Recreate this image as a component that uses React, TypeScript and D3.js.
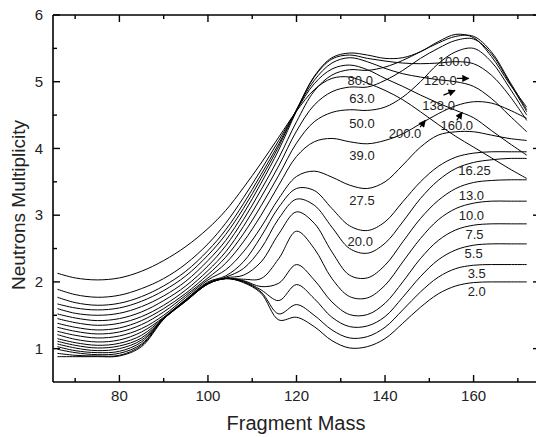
import React from "react";
import * as d3 from "d3";

// fragment mass sample points
const masses = [66, 70, 75, 80, 85, 90, 95, 100, 104, 108, 112, 116, 120, 124, 128, 132, 136, 140, 144, 148, 152, 156, 160, 164, 168, 172];

// neutron multiplicity per excitation energy
const e2_0 = [0.88, 0.88, 0.88, 0.89, 1.03, 1.44, 1.73, 1.98, 2.05, 1.99, 1.83, 1.43, 1.47, 1.33, 1.12, 1.01, 1.03, 1.15, 1.38, 1.62, 1.82, 1.94, 1.99, 2.0, 2.0, 2.0];
const e3_5 = [0.93, 0.9, 0.89, 0.9, 1.05, 1.45, 1.73, 1.98, 2.05, 2.0, 1.85, 1.52, 1.66, 1.5, 1.28, 1.16, 1.18, 1.32, 1.58, 1.85, 2.07, 2.2, 2.25, 2.26, 2.26, 2.26];
const e5_5 = [0.99, 0.94, 0.91, 0.93, 1.07, 1.45, 1.72, 1.98, 2.05, 2.01, 1.88, 1.72, 1.96, 1.75, 1.47, 1.33, 1.34, 1.48, 1.77, 2.08, 2.33, 2.48, 2.55, 2.57, 2.57, 2.57];
const e7_5 = [1.03, 0.97, 0.94, 0.96, 1.1, 1.45, 1.72, 1.97, 2.05, 2.02, 1.93, 1.98, 2.26, 2.03, 1.7, 1.51, 1.51, 1.68, 2.0, 2.35, 2.62, 2.78, 2.85, 2.87, 2.87, 2.87];
const e10 = [1.07, 1.01, 0.97, 1.0, 1.13, 1.45, 1.71, 1.97, 2.05, 2.04, 2.05, 2.35, 2.76, 2.5, 2.05, 1.78, 1.76, 1.95, 2.3, 2.65, 2.93, 3.1, 3.18, 3.21, 3.21, 3.21];
const e13 = [1.11, 1.05, 1.01, 1.04, 1.16, 1.45, 1.71, 1.97, 2.06, 2.1, 2.3, 2.72, 3.05, 2.88, 2.45, 2.1, 2.06, 2.25, 2.6, 2.95, 3.22, 3.4, 3.49, 3.52, 3.53, 3.53];
const e16_25 = [1.15, 1.09, 1.05, 1.08, 1.2, 1.46, 1.72, 1.98, 2.07, 2.2, 2.5, 2.95, 3.24, 3.15, 2.82, 2.5, 2.43, 2.58, 2.9, 3.25, 3.52, 3.7, 3.79, 3.83, 3.85, 3.85];
const e20 = [1.21, 1.14, 1.1, 1.13, 1.25, 1.47, 1.74, 2.0, 2.09, 2.3, 2.68, 3.12, 3.4, 3.37, 3.1, 2.84, 2.77, 2.9, 3.2, 3.5, 3.73, 3.87, 3.93, 3.95, 3.95, 3.95];
const e27_5 = [1.26, 1.2, 1.16, 1.19, 1.3, 1.5, 1.77, 2.03, 2.18, 2.45, 2.82, 3.25, 3.58, 3.66, 3.57, 3.45, 3.4, 3.5, 3.75, 4.02, 4.2, 4.25, 4.25, 4.2, 4.15, 4.12];
const e39 = [1.32, 1.26, 1.22, 1.25, 1.36, 1.55, 1.8, 2.06, 2.28, 2.6, 3.0, 3.45, 3.88, 4.1, 4.15, 4.1, 4.07, 4.12, 4.22, 4.37, 4.52, 4.64, 4.7, 4.68, 4.58, 4.45];
const e50 = [1.38, 1.32, 1.28, 1.31, 1.42, 1.6, 1.83, 2.11, 2.37, 2.72, 3.14, 3.6, 4.08, 4.4, 4.54, 4.58, 4.57, 4.62, 4.77, 5.0, 5.27, 5.45, 5.5, 5.3, 4.92, 4.5];
const e63 = [1.45, 1.39, 1.35, 1.38, 1.48, 1.65, 1.88, 2.17, 2.45, 2.83, 3.27, 3.74, 4.26, 4.65, 4.85, 4.92, 4.92, 5.02, 5.17, 5.35, 5.5, 5.62, 5.64, 5.42, 5.0, 4.55];
const e80 = [1.52, 1.46, 1.42, 1.45, 1.55, 1.72, 1.94, 2.24, 2.54, 2.93, 3.38, 3.86, 4.4, 4.86, 5.1, 5.18, 5.17, 5.22, 5.32, 5.45, 5.58, 5.68, 5.68, 5.45, 5.02, 4.58];
const e100 = [1.6, 1.53, 1.5, 1.53, 1.63, 1.79, 2.01, 2.32, 2.62, 3.02, 3.48, 3.98, 4.56, 5.08, 5.36, 5.43, 5.4, 5.35, 5.36, 5.45, 5.6, 5.71, 5.66, 5.38, 4.98, 4.62];
const e120 = [1.67, 1.61, 1.58, 1.61, 1.71, 1.87, 2.09, 2.4, 2.71, 3.1, 3.55, 4.03, 4.58, 5.07, 5.34, 5.4, 5.35, 5.31, 5.28, 5.27, 5.28, 5.3, 5.27, 5.1, 4.8, 4.42];
const e138 = [1.77, 1.69, 1.65, 1.68, 1.78, 1.94, 2.16, 2.47, 2.78, 3.17, 3.61, 4.07, 4.58, 5.02, 5.28, 5.36, 5.3, 5.2, 5.12, 5.07, 5.03, 5.0, 4.93, 4.75, 4.5, 4.25];
const e160 = [1.89, 1.81, 1.77, 1.8, 1.9, 2.05, 2.27, 2.57, 2.88, 3.26, 3.68, 4.12, 4.57, 4.97, 5.19, 5.25, 5.18, 5.05, 4.93, 4.8, 4.68, 4.57, 4.46, 4.27, 4.08, 3.9];
const e200 = [2.13, 2.06, 2.03, 2.06, 2.16, 2.32, 2.53, 2.8, 3.07, 3.41, 3.78, 4.17, 4.56, 4.88, 5.05, 5.07, 4.98, 4.87, 4.73, 4.55, 4.36, 4.18, 4.02, 3.86, 3.7, 3.55];

const curves = [e2_0, e3_5, e5_5, e7_5, e10, e13, e16_25, e20, e27_5, e39, e50, e63, e80, e100, e120, e138, e160, e200];

// curve labels: text, mass, multiplicity
const labelText = ["100.0", "120.0", "80.0", "63.0", "50.0", "138.0", "160.0", "200.0", "39.0", "27.5", "20.0", "16.25", "13.0", "10.0", "7.5", "5.5", "3.5", "2.0"];
const labelMass = [155.6, 152.5, 134.4, 134.8, 134.8, 152.1, 156.2, 144.5, 134.8, 134.8, 134.4, 160.2, 159.5, 159.5, 160.2, 160.0, 160.7, 160.7];
const labelVal = [5.31, 5.02, 5.02, 4.75, 4.37, 4.65, 4.35, 4.22, 3.9, 3.22, 2.6, 3.67, 3.3, 3.0, 2.71, 2.42, 2.12, 1.85];

// pointer arrows [mass0, val0, mass1, val1]
const arrows = [
  [156.2, 5.05, 158.9, 5.05],
  [153.2, 4.8, 155.8, 4.87],
  [156.2, 4.42, 157.4, 4.54],
  [147.9, 4.32, 149.1, 4.42],
];

const xMajor = [80, 100, 120, 140, 160];
const xMinor = [70, 90, 110, 130, 150, 170];
const yMajor = [1, 2, 3, 4, 5, 6];
const yMinor = [1.5, 2.5, 3.5, 4.5, 5.5];

const font = "'Liberation Sans', Arial, sans-serif";

export default function App() {
  const x = d3.scaleLinear().domain([65, 175]).range([53, 540]);
  const y = d3.scaleLinear().domain([0.5, 6]).range([382, 15]);
  const [x0, x1] = x.range();
  const [y0, y1] = y.range();

  const line = d3
    .line<number>()
    .x((_, i) => x(masses[i]))
    .y((d) => y(d))
    .curve(d3.curveCatmullRom.alpha(0.5));

  return (
    <svg
      width={536}
      height={437}
      style={{ position: "absolute", left: 0, top: 0, background: "#fff" }}
    >
      <defs>
        <marker id="head" viewBox="0 0 10 10" refX="9" refY="5" markerWidth="7" markerHeight="6" orient="auto">
          <path d="M0,0 L10,5 L0,10 z" fill="#000" />
        </marker>
      </defs>

      {curves.map((c, i) => (
        <path key={i} d={line(c) || ""} fill="none" stroke="#000" strokeWidth={1} />
      ))}

      {labelText.map((t, i) => (
        <text
          key={t}
          x={x(labelMass[i])}
          y={y(labelVal[i])}
          dy="0.35em"
          textAnchor="middle"
          fontFamily={font}
          fontSize={13}
          fill="#222"
        >
          {t}
        </text>
      ))}

      {arrows.map((a, i) => (
        <line
          key={i}
          x1={x(a[0])}
          y1={y(a[1])}
          x2={x(a[2])}
          y2={y(a[3])}
          stroke="#000"
          strokeWidth={1.2}
          markerEnd="url(#head)"
        />
      ))}

      {/* frame */}
      <g stroke="#000" strokeWidth={1.6} fill="none">
        <line x1={x0} y1={y0} x2={x1} y2={y0} />
        <line x1={x0} y1={y1} x2={x1} y2={y1} />
        <line x1={x0} y1={y0} x2={x0} y2={y1} />
        <line x1={x1} y1={y0} x2={x1} y2={y1} />
      </g>

      <g stroke="#000" strokeWidth={1.4}>
        {xMajor.map((m) => (
          <g key={"xM" + m}>
            <line x1={x(m)} x2={x(m)} y1={y0} y2={y0 - 7} />
            <line x1={x(m)} x2={x(m)} y1={y1} y2={y1 + 7} />
          </g>
        ))}
        {xMinor.map((m) => (
          <g key={"xm" + m}>
            <line x1={x(m)} x2={x(m)} y1={y0} y2={y0 - 4} />
            <line x1={x(m)} x2={x(m)} y1={y1} y2={y1 + 4} />
          </g>
        ))}
        {yMajor.map((v) => (
          <g key={"yM" + v}>
            <line x1={x0} x2={x0 + 7} y1={y(v)} y2={y(v)} />
            <line x1={x1} x2={x1 - 7} y1={y(v)} y2={y(v)} />
          </g>
        ))}
        {yMinor.map((v) => (
          <g key={"ym" + v}>
            <line x1={x0} x2={x0 + 4} y1={y(v)} y2={y(v)} />
            <line x1={x1} x2={x1 - 4} y1={y(v)} y2={y(v)} />
          </g>
        ))}
      </g>

      <g fontFamily={font} fontSize={15} fill="#222">
        {xMajor.map((m) => (
          <text key={"xl" + m} x={x(m)} y={y0 + 14} dy="0.35em" textAnchor="middle">
            {m}
          </text>
        ))}
        {yMajor.map((v) => (
          <text key={"yl" + v} x={x0 - 10} y={y(v)} dy="0.35em" textAnchor="end">
            {v}
          </text>
        ))}
      </g>

      <text
        x={296}
        y={423}
        dy="0.35em"
        textAnchor="middle"
        fontFamily={font}
        fontSize={20}
        fill="#222"
      >
        Fragment Mass
      </text>
      <text
        transform={`translate(18,205) rotate(-90)`}
        dy="0.35em"
        textAnchor="middle"
        fontFamily={font}
        fontSize={19}
        fill="#222"
      >
        Neutrons Multiplicity
      </text>
    </svg>
  );
}
